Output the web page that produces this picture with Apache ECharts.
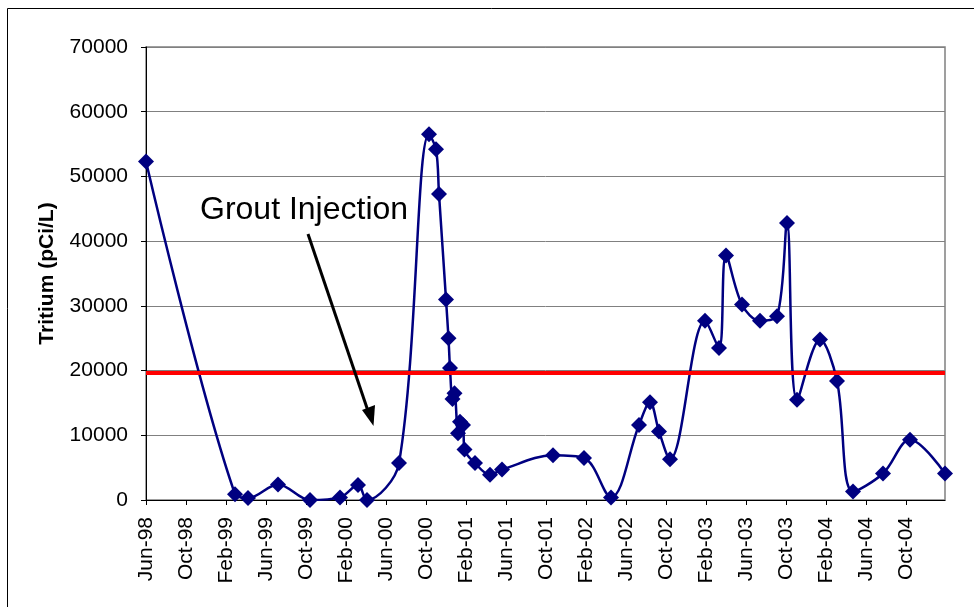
<!DOCTYPE html>
<html>
<head>
<meta charset="utf-8">
<script src="https://cdn.jsdelivr.net/npm/echarts@6/dist/echarts.min.js"></script>
<style>
html,body{margin:0;padding:0;background:#fff;}
#chart{width:974px;height:607px;}
</style>
</head>
<body>
<div id="chart"></div>
<script>
// Months since Jun-1998 for each sample
const sampleMonths = [0, 8.9, 10.2, 13.2, 16.4, 19.4, 21.2, 22.1, 25.3, 28.3, 29.0, 29.3, 30.0, 30.25,
  30.4, 30.65, 30.85, 31.2, 31.4, 31.7, 31.85, 32.9, 34.4, 35.6, 40.7, 43.8, 46.5, 49.3, 50.4, 51.3, 52.4,
  55.9, 57.3, 58.0, 59.6, 61.4, 63.1, 64.1, 65.1, 67.4, 69.1, 70.7, 73.7, 76.4, 79.9];
// Tritium (pCi/L)
const tritium = [52300, 900, 300, 2400, 0, 400, 2300, 0, 5700, 56500, 54200, 47300, 31000, 25000,
  20400, 15600, 16500, 10300, 12100, 11600, 7800, 5700, 3900, 4700, 6900, 6500, 400, 11600, 15100, 10600, 6300,
  27700, 23500, 37800, 30200, 27700, 28400, 42800, 15500, 24800, 18400, 1300, 4100, 9300, 4100];
const monthNames = ['Jan','Feb','Mar','Apr','May','Jun','Jul','Aug','Sep','Oct','Nov','Dec'];
const limitValue = 19700;
const annotationText = 'Grout Injection';
const yTitle = 'Tritium (pCi/L)';

const chart = echarts.init(document.getElementById('chart'), null, {renderer: 'canvas'});
const fontFam = 'Liberation Sans, Arial, sans-serif';

function monthLabel(m) {
  if (Math.abs(m - Math.round(m)) > 1e-6 || Math.round(m) % 4 !== 0 || m > 76) return '';
  const idx = 5 + Math.round(m);
  const mon = monthNames[idx % 12];
  const yr = (1998 + Math.floor(idx / 12)) % 100;
  return mon + '-' + String(yr).padStart(2, '0');
}

const option = {
  backgroundColor: '#ffffff',
  animation: false,
  grid: {left: 146, right: 29, top: 47, bottom: 107, show: true, borderColor: '#808080', borderWidth: 1.5},
  xAxis: {
    type: 'value', min: 0, max: 79.9, interval: 4,
    axisLine: {show: true, lineStyle: {color: '#000', width: 1}},
    axisTick: {show: true, inside: false, length: 5, lineStyle: {color: '#000'}},
    splitLine: {show: false},
    axisLabel: {rotate: 90, margin: 17, fontSize: 21, color: '#000', fontFamily: fontFam,
      formatter: monthLabel, showMaxLabel: false}
  },
  yAxis: {
    type: 'value', min: 0, max: 70000, interval: 10000,
    name: yTitle, nameLocation: 'middle', nameGap: 88, nameRotate: 90,
    nameTextStyle: {fontSize: 21, fontWeight: 'bold', color: '#000', fontFamily: fontFam},
    axisLine: {show: true, lineStyle: {color: '#000', width: 1}},
    axisTick: {show: true, inside: false, length: 5, lineStyle: {color: '#000'}},
    splitLine: {show: true, lineStyle: {color: '#808080', width: 1}},
    axisLabel: {margin: 18, fontSize: 21, color: '#000', fontFamily: fontFam,
      formatter: function (v) { return String(v); }}
  },
  series: [{
    type: 'line',
    data: sampleMonths.map((m, i) => [m, tritium[i]]),
    smooth: 0.35,
    symbol: 'diamond', symbolSize: 16,
    lineStyle: {color: '#000080', width: 2.5},
    itemStyle: {color: '#000080'},
    markLine: {
      silent: true, symbol: ['none', 'none'], label: {show: false},
      lineStyle: {color: '#ff0000', width: 4, type: 'solid'},
      data: [{yAxis: limitValue}]
    },
    z: 3
  }],
  graphic: [
    {type: 'rect', shape: {x: 7.5, y: 8.5, width: 1200, height: 800}, style: {fill: 'none', stroke: '#000', lineWidth: 1}, z: 0, silent: true},
    {type: 'text', x: 200, y: 210, style: {text: annotationText, fontSize: 32, fontFamily: fontFam, fill: '#000', textAlign: 'left', textVerticalAlign: 'middle'}, z: 10},
    {type: 'line', shape: {x1: 308, y1: 234, x2: 368, y2: 411}, style: {stroke: '#000', lineWidth: 3}, z: 10},
    {type: 'polygon', shape: {points: [[373.5, 426], [362, 410], [375, 405]]}, style: {fill: '#000'}, z: 10}
  ]
};
chart.setOption(option);
</script>
</body>
</html>
